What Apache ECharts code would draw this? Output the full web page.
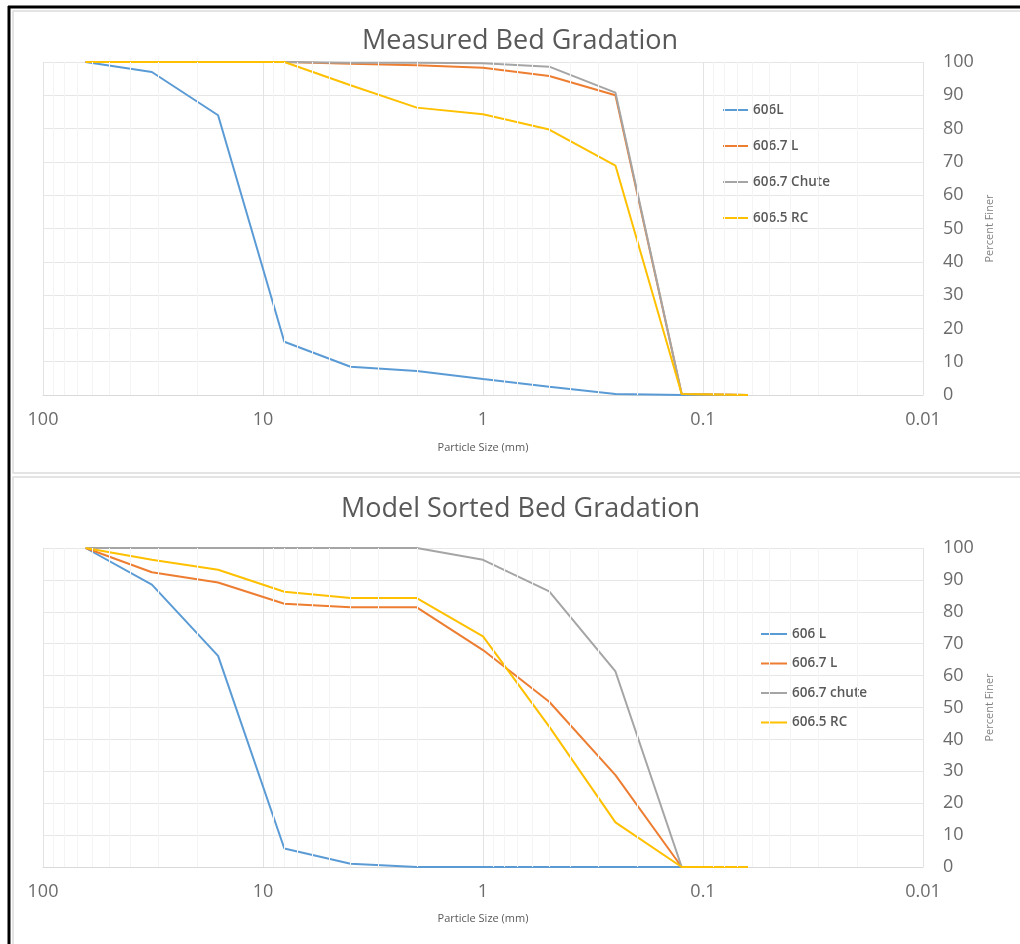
<!DOCTYPE html>
<html>
<head>
<meta charset="utf-8">
<script src="https://cdn.jsdelivr.net/npm/echarts@6/dist/echarts.min.js"></script>
<style>
html,body{margin:0;padding:0;background:#fff;}
#c{width:1020px;height:944px;}
</style>
</head>
<body>
<div id="c"></div>
<script>
// Sieve sizes (mm)
var sizes = [64, 32, 16, 8, 4, 2, 1, 0.5, 0.25, 0.125, 0.0625];
// Minor log gridline positions
var minorTicks = [90,80,70,60,50,40,30,20, 9,8,7,6,5,4,3,2, 0.9,0.8,0.7,0.6,0.5,0.4,0.3,0.2, 0.09,0.08,0.07,0.06,0.05,0.04,0.03,0.02];

// Measured Bed Gradation (percent finer)
var measured606L      = [100, 97, 84, 16, 8.5, 7.2, 4.8, 2.5, 0.3, 0, 0];
var measured6067L     = [100, 100, 100, 100, 99.5, 99, 98.3, 95.8, 90, 0.3, 0];
var measured6067Chute = [100, 100, 100, 100, 99.8, 99.8, 99.6, 98.6, 90.8, 0.3, 0];
var measured6065RC    = [100, 100, 100, 100, 93, 86.3, 84.3, 79.7, 68.9, 0.3, 0];

// Model Sorted Bed Gradation (percent finer)
var model606L       = [100, 88.5, 66.2, 5.8, 1, 0, 0, 0, 0, 0, 0];
var model6067L      = [100, 92.4, 89.2, 82.5, 81.4, 81.4, 68, 51.8, 28.8, 0, 0];
var model6067chute  = [100, 100, 100, 100, 100, 100, 96.3, 86.4, 61.3, 0, 0];
var model6065RC     = [100, 96.3, 93.2, 86.3, 84.3, 84.3, 72.3, 44, 14, 0, 0];

var names1 = ['606L', '606.7 L', '606.7 Chute', '606.5 RC'];
var names2 = ['606 L', '606.7 L', '606.7 chute', '606.5 RC'];
var colors = ['#5B9BD5', '#ED7D31', '#A5A5A5', '#FFC000'];

function pairs(vals) { return sizes.map(function (s, i) { return [s, vals[i]]; }); }

var FONT = 'Open Sans';
var labelColor = '#6b6b6b';

function xAxis(idx, gap) {
  return {
    type: 'log', gridIndex: idx, logBase: 10, min: 0.01, max: 100, inverse: true,
    name: 'Particle Size (mm)', nameLocation: 'middle', nameGap: gap,
    nameTextStyle: {fontFamily: FONT, fontSize: 11, color: '#595959'},
    axisLine: {show: true, lineStyle: {color: '#d9d9d9', width: 1}},
    axisTick: {show: false},
    axisLabel: {fontFamily: FONT, fontSize: 18, color: labelColor, margin: 16,
      formatter: function (v) { return String(v); }},
    splitLine: {show: true, lineStyle: {color: '#e3e3e3', width: 1}}
  };
}
function yAxis(idx) {
  return {
    type: 'value', gridIndex: idx, min: 0, max: 100, interval: 10, position: 'right',
    name: 'Percent Finer', nameLocation: 'middle', nameGap: 61, nameRotate: 90,
    nameTextStyle: {fontFamily: FONT, fontSize: 11, color: '#808080'},
    axisLine: {show: false}, axisTick: {show: false},
    axisLabel: {fontFamily: FONT, fontSize: 18, color: labelColor, margin: 20, align: 'left'},
    splitLine: {show: true, lineStyle: {color: '#e6e6e6', width: 1}}
  };
}
function minorSeries(idx) {
  return {
    type: 'line', xAxisIndex: idx, yAxisIndex: idx, data: [], z: 0, silent: true,
    markLine: {
      silent: true, symbol: 'none', label: {show: false},
      lineStyle: {color: '#f4f4f4', width: 1, type: 'solid'},
      data: minorTicks.map(function (v) { return {xAxis: v}; })
    }
  };
}
function lineSeries(name, vals, c, idx) {
  return {
    name: name, type: 'line', xAxisIndex: idx, yAxisIndex: idx, data: pairs(vals),
    showSymbol: false, symbol: 'none', smooth: false, z: 3,
    lineStyle: {color: c, width: 2}, itemStyle: {color: c}
  };
}

var legendText = {fontFamily: FONT, fontSize: 13.5, fontWeight: 600, color: '#595959'};

var option = {
  animation: false,
  backgroundColor: '#ffffff',
  title: [
    {text: 'Measured Bed Gradation', left: 357, top: 23,
     textStyle: {fontFamily: FONT, fontSize: 27, fontWeight: 'normal', color: '#595959'}},
    {text: 'Model Sorted Bed Gradation', left: 336, top: 491,
     textStyle: {fontFamily: FONT, fontSize: 27, fontWeight: 'normal', color: '#595959'}}
  ],
  grid: [
    {left: 43, right: 97, top: 62, height: 333},
    {left: 43, right: 97, top: 548, height: 319}
  ],
  xAxis: [xAxis(0, 47), xAxis(1, 46)],
  yAxis: [yAxis(0), yAxis(1)],
  legend: [
    {data: names1, orient: 'vertical', left: 718, top: 98, itemWidth: 25, itemHeight: 2,
     icon: 'rect', itemGap: 22, selectedMode: false, textStyle: legendText},
    {data: names2, orient: 'vertical', left: 756, top: 622, itemWidth: 26, itemHeight: 2,
     icon: 'rect', itemGap: 15.5, selectedMode: false, textStyle: legendText}
  ],
  series: [
    minorSeries(0),
    lineSeries(names1[0], measured606L, colors[0], 0),
    lineSeries(names1[1], measured6067L, colors[1], 0),
    lineSeries(names1[2], measured6067Chute, colors[2], 0),
    lineSeries(names1[3], measured6065RC, colors[3], 0),
    minorSeries(1),
    lineSeries(names2[0], model606L, colors[0], 1),
    lineSeries(names2[1], model6067L, colors[1], 1),
    lineSeries(names2[2], model6067chute, colors[2], 1),
    lineSeries(names2[3], model6065RC, colors[3], 1)
  ],
  graphic: [
    {type: 'rect', shape: {x: 13, y: 11, width: 1010, height: 462}, silent: true, z: -1,
     style: {fill: 'none', stroke: '#dcdcdc', lineWidth: 1.5}},
    {type: 'rect', shape: {x: 13, y: 477, width: 1010, height: 470}, silent: true, z: -1,
     style: {fill: 'none', stroke: '#dcdcdc', lineWidth: 1.5}},
    {type: 'line', shape: {x1: 8, y1: 7, x2: 1020, y2: 7}, silent: true,
     style: {stroke: '#000000', lineWidth: 3}},
    {type: 'line', shape: {x1: 9, y1: 6, x2: 9, y2: 944}, silent: true,
     style: {stroke: '#000000', lineWidth: 3}}
  ]
};

var chart = echarts.init(document.getElementById('c'), null, {renderer: 'canvas'});
chart.setOption(option);
</script>
</body>
</html>
